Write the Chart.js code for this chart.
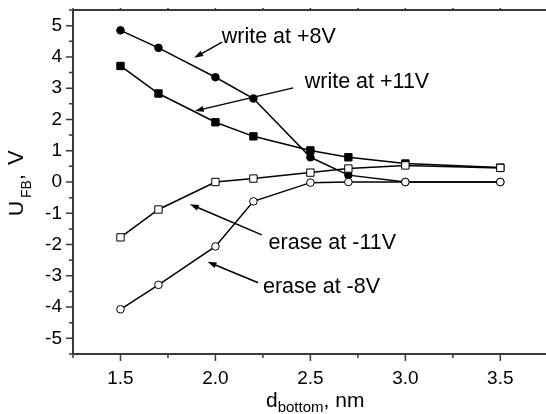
<!DOCTYPE html>
<html>
<head>
<meta charset="utf-8">
<script src="https://cdn.jsdelivr.net/npm/chart.js@4"></script>
<style>
  html, body { margin: 0; padding: 0; background: #fff; overflow: hidden; }
  #wrap { position: relative; width: 554px; height: 414px; }
</style>
</head>
<body>
<div id="wrap"><canvas id="ufbChart"></canvas></div>
<script>
// d_bottom thickness, nm
const dBottom = [1.5, 1.7, 2.0, 2.2, 2.5, 2.7, 3.0, 3.5];

// flat-band voltage U_FB, V
const write8 = [4.85, 4.29, 3.35, 2.67, 0.79, 0.22, 0.0, 0.0];
const write11 = [3.71, 2.83, 1.91, 1.46, 1.01, 0.79, 0.59, 0.46];
const erase11 = [-1.77, -0.88, 0.0, 0.11, 0.30, 0.43, 0.53, 0.45];
const erase8 = [-4.07, -3.29, -2.06, -0.62, -0.02, 0.0, 0.0, 0.0];

const xTicks = [1.5, 2.0, 2.5, 3.0, 3.5];
const yTicks = [-5, -4, -3, -2, -1, 0, 1, 2, 3, 4, 5];

// labels + arrows (data units)
const notes = [
  { text: "write at +8V", x: 2.033, y: 4.62, from: [2.035, 4.47], to: [1.888, 3.97] },
  { text: "write at +11V", x: 2.47, y: 3.18, from: [2.41, 3.01], to: [1.891, 2.27] },
  { text: "erase at -11V", x: 2.28, y: -1.95, from: [2.244, -1.69], to: [1.865, -0.71] },
  { text: "erase at -8V", x: 2.25, y: -3.35, from: [2.225, -3.22], to: [1.958, -2.55] }
];

const FONT = "'Liberation Sans', Arial, sans-serif";

function pts(ys) {
  return dBottom.map(function (x, i) { return { x: x, y: ys[i] }; });
}

function series(label, ys, style, filled, r) {
  return {
    label: label,
    data: pts(ys),
    borderColor: "#000",
    borderWidth: 1.5,
    pointStyle: style,
    pointRadius: r,
    pointBackgroundColor: filled ? "#000" : "#fff",
    pointBorderColor: "#000",
    pointBorderWidth: 1,
    tension: 0
  };
}

// no extra padding from edge labels
function noPad(s) {
  s.paddingTop = 0;
  s.paddingBottom = 0;
  s.paddingLeft = 0;
  s.paddingRight = 0;
}

// frame, ticks, axis titles, notes
const extras = {
  id: "extras",
  afterDraw: function (chart) {
    const ctx = chart.ctx;
    const a = chart.chartArea;
    const xs = chart.scales.x;
    const ys = chart.scales.y;
    ctx.save();

    ctx.strokeStyle = "#3a3a3a";
    ctx.lineWidth = 2;
    ctx.beginPath();
    ctx.moveTo(a.left, a.top);
    ctx.lineTo(a.right, a.top);
    ctx.moveTo(a.left, a.top - 1);
    ctx.lineTo(a.left, a.bottom);
    ctx.lineTo(a.right, a.bottom);
    ctx.stroke();

    ctx.lineWidth = 1.5;
    ctx.beginPath();
    yTicks.forEach(function (v) {
      const py = ys.getPixelForValue(v);
      ctx.moveTo(a.left, py);
      ctx.lineTo(a.left - 7, py);
      [-0.5, 0.5].forEach(function (d) {
        const m = ys.getPixelForValue(v + d);
        ctx.moveTo(a.left, m);
        ctx.lineTo(a.left - 4, m);
      });
    });
    xTicks.forEach(function (v) {
      const px = xs.getPixelForValue(v);
      ctx.moveTo(px, a.bottom);
      ctx.lineTo(px, a.bottom + 7);
      ctx.moveTo(px, a.top);
      ctx.lineTo(px, a.top - 2);
      [-0.25, 0.25].forEach(function (d) {
        const m = xs.getPixelForValue(v + d);
        ctx.moveTo(m, a.bottom);
        ctx.lineTo(m, a.bottom + 4);
        ctx.moveTo(m, a.top);
        ctx.lineTo(m, a.top - 2);
      });
    });
    ctx.stroke();

    ctx.fillStyle = "#000";
    ctx.textBaseline = "alphabetic";

    // y title: U_FB, V
    ctx.save();
    ctx.translate(23, 216);
    ctx.rotate(-Math.PI / 2);
    ctx.textAlign = "left";
    ctx.font = "21px " + FONT;
    ctx.fillText("U", 0, 0);
    ctx.font = "14px " + FONT;
    ctx.fillText("FB", 18, 8);
    ctx.font = "21px " + FONT;
    ctx.fillText(",", 36, 0);
    ctx.font = "22px " + FONT;
    ctx.fillText("V", 51, 0);
    ctx.restore();

    // x title: d_bottom, nm
    let x0 = 266;
    const yb = 407;
    ctx.textAlign = "left";
    ctx.font = "21px " + FONT;
    ctx.fillText("d", x0, yb);
    x0 += ctx.measureText("d").width;
    ctx.font = "15px " + FONT;
    ctx.fillText("bottom", x0, yb + 5);
    x0 += ctx.measureText("bottom").width;
    ctx.font = "21px " + FONT;
    ctx.fillText(", nm", x0, yb);

    // notes with arrows
    ctx.font = "21.5px " + FONT;
    ctx.textBaseline = "middle";
    notes.forEach(function (n) {
      ctx.fillText(n.text, xs.getPixelForValue(n.x), ys.getPixelForValue(n.y));
      const x1 = xs.getPixelForValue(n.from[0]);
      const y1 = ys.getPixelForValue(n.from[1]);
      const x2 = xs.getPixelForValue(n.to[0]);
      const y2 = ys.getPixelForValue(n.to[1]);
      const ang = Math.atan2(y2 - y1, x2 - x1);
      ctx.strokeStyle = "#000";
      ctx.lineWidth = 1.5;
      ctx.beginPath();
      ctx.moveTo(x1, y1);
      ctx.lineTo(x2 - 6 * Math.cos(ang), y2 - 6 * Math.sin(ang));
      ctx.stroke();
      ctx.beginPath();
      ctx.moveTo(x2, y2);
      ctx.lineTo(x2 - 9 * Math.cos(ang) + 3 * Math.sin(ang), y2 - 9 * Math.sin(ang) - 3 * Math.cos(ang));
      ctx.lineTo(x2 - 9 * Math.cos(ang) - 3 * Math.sin(ang), y2 - 9 * Math.sin(ang) + 3 * Math.cos(ang));
      ctx.closePath();
      ctx.fill();
    });
    ctx.restore();
  }
};

document.addEventListener("DOMContentLoaded", function () {
  const canvas = document.getElementById("ufbChart");
  if (!canvas) return;

  new Chart(canvas.getContext("2d"), {
    type: "line",
    data: {
      datasets: [
        series("erase at -8V", erase8, "circle", false, 3.8),
        series("erase at -11V", erase11, "rect", false, 5.2),
        series("write at +11V", write11, "rect", true, 5.2),
        series("write at +8V", write8, "circle", true, 3.8)
      ]
    },
    options: {
      responsive: true,
      maintainAspectRatio: false,
      animation: false,
      layout: { padding: { top: 10, right: 0, left: 0, bottom: 0 } },
      scales: {
        x: {
          type: "linear",
          min: 1.25,
          max: 3.75,
          afterBuildTicks: function (s) { s.ticks = xTicks.map(function (v) { return { value: v }; }); },
          afterFit: function (s) { s.height = 60; noPad(s); },
          grid: { display: false, drawTicks: false },
          border: { display: false },
          ticks: {
            padding: 13,
            color: "#000",
            font: { family: FONT, size: 19 },
            maxRotation: 0,
            callback: function (v) { return Number(v).toFixed(1); }
          }
        },
        y: {
          type: "linear",
          min: -5.5,
          max: 5.5,
          afterBuildTicks: function (s) { s.ticks = yTicks.map(function (v) { return { value: v }; }); },
          afterFit: function (s) { s.width = 73; noPad(s); },
          grid: { display: false, drawTicks: false },
          border: { display: false },
          ticks: {
            padding: 11,
            color: "#000",
            font: { family: FONT, size: 19 },
            callback: function (v) { return String(v); }
          }
        }
      },
      plugins: {
        legend: { display: false },
        tooltip: { enabled: false }
      }
    },
    plugins: [extras]
  });
});
</script>
</body>
</html>
